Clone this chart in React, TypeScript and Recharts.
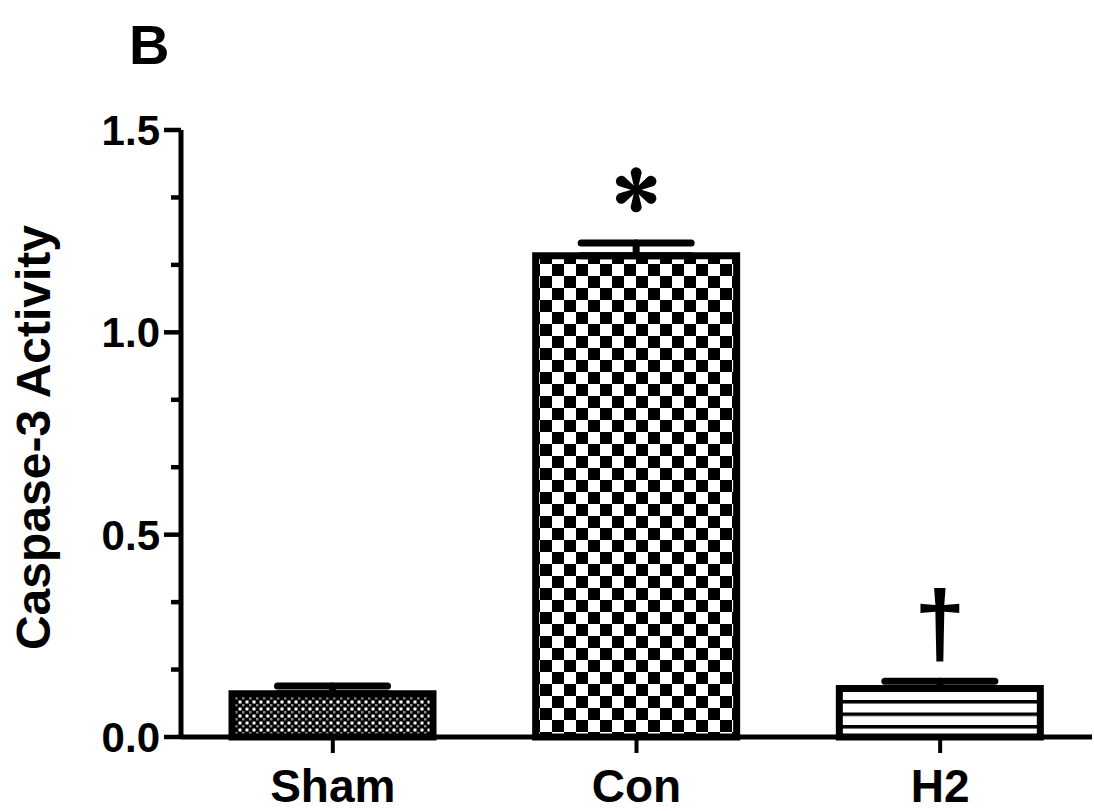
import React from 'react'
import { BarChart, Bar, XAxis, YAxis, ErrorBar, Cell, LabelList, Label } from 'recharts'

// ============================================
// Data
// ============================================

const categories = ['Sham', 'Con', 'H2']
const means = [0.107, 1.189, 0.12]
const sems = [0.019, 0.032, 0.018]
const marks = ['', '*', '†']
const fills = ['url(#patDots)', 'url(#patChecker)', 'url(#patLines)']

const yTicks = [0, 0.5, 1.0, 1.5]
const yMinorTicks = [0.1667, 0.3333, 0.6667, 0.8333, 1.1667, 1.3333]
const yAllTicks = [...yTicks, ...yMinorTicks].sort((a, b) => a - b)

const FONT = '"Liberation Sans", Arial, sans-serif'

const data = categories.map((name, i) => ({
  name,
  value: means[i],
  err: [0, sems[i]],
  mark: marks[i],
}))

// ============================================
// Ticks
// ============================================

const YTick = ({ x, y, payload }: any) => {
  const major = yTicks.some(t => Math.abs(t - payload.value) < 1e-6)
  return (
    <g>
      <line x1={x - (major ? 17 : 10)} x2={x} y1={y} y2={y} stroke="#000" strokeWidth={4.5} />
      {major && (
        <text x={x - 21} y={y + 15} textAnchor="end" fontFamily={FONT} fontWeight="bold" fontSize={42} fill="#000">
          {payload.value.toFixed(1)}
        </text>
      )}
    </g>
  )
}

const XTick = ({ x, y, payload }: any) => (
  <g>
    <line x1={x} x2={x} y1={y} y2={y + 16} stroke="#000" strokeWidth={4} />
    <text x={x} y={y + 65} textAnchor="middle" fontFamily={FONT} fontWeight="bold" fontSize={46} fill="#000">
      {payload.value}
    </text>
  </g>
)

// significance marks above bars
const MarkLabel = (props: any) => {
  const { x, y, width, value } = props
  const cx = x + width / 2
  if (value === '*') {
    const cy = y - 66
    return (
      <g>
        {[0, 60, 120, 180, 240, 300].map(a => (
          <path key={a} fill="#000" transform={`rotate(${a} ${cx} ${cy})`}
            d={`M ${cx - 1.5} ${cy} L ${cx - 5.5} ${cy - 17} A 5.5 5.5 0 1 1 ${cx + 5.5} ${cy - 17} L ${cx + 1.5} ${cy} Z`} />
        ))}
      </g>
    )
  }
  if (value === '†') {
    return (
      <text x={cx} y={y - 33} textAnchor="middle" fontFamily={FONT} fontWeight="bold" fontSize={92} fill="#000">
        †
      </text>
    )
  }
  return null
}

export default function App() {
  return (
    <div style={{ position: 'absolute', left: 0, top: 0, width: 1094, height: 811, background: '#fff' }}>
      <svg width={0} height={0} style={{ position: 'absolute' }}>
        <defs>
          <pattern id="patDots" patternUnits="userSpaceOnUse" width={7} height={7}>
            <rect width={7} height={7} fill="#000" />
            <rect x={0.5} y={0.5} width={3} height={3} fill="#fff" />
            <rect x={4} y={4} width={2.5} height={2.5} fill="#8a8a8a" />
          </pattern>
          <pattern id="patChecker" patternUnits="userSpaceOnUse" width={24} height={24}>
            <rect width={24} height={24} fill="#fff" />
            <rect x={0} y={0} width={12} height={12} fill="#000" />
            <rect x={12} y={12} width={12} height={12} fill="#000" />
          </pattern>
          <pattern id="patLines" patternUnits="userSpaceOnUse" width={12} height={12.5}>
            <rect width={12} height={12.5} fill="#fff" />
            <rect x={0} y={0} width={12} height={3.5} fill="#000" />
          </pattern>
        </defs>
      </svg>

      <div style={{
        position: 'absolute', left: 129, top: 17, fontFamily: FONT, fontWeight: 'bold',
        fontSize: 56, lineHeight: 1, color: '#000',
      }}>
        B
      </div>

      <BarChart width={1094} height={811} data={data} margin={{ top: 130, right: 2, left: 0, bottom: 0 }}>
        <XAxis
          dataKey="name"
          height={74}
          tickSize={0}
          tickMargin={0}
          tickLine={false}
          axisLine={{ stroke: '#000', strokeWidth: 5 }}
          tick={<XTick />}
          interval={0}
        />
        <YAxis
          width={181}
          domain={[0, 1.5]}
          ticks={yAllTicks}
          interval={0}
          tickSize={0}
          tickMargin={0}
          tickLine={false}
          axisLine={{ stroke: '#000', strokeWidth: 5 }}
          tick={<YTick />}
        >
          <Label
            content={({ viewBox }: any) => {
              const cx = 50
              const cy = viewBox.y + viewBox.height / 2 + 4
              return (
                <text x={cx} y={cy} transform={`rotate(-90 ${cx} ${cy})`} textAnchor="middle"
                  fontFamily={FONT} fontWeight="bold" fontSize={48} fill="#000">
                  Caspase-3 Activity
                </text>
              )
            }}
          />
        </YAxis>
        <Bar dataKey="value" barSize={201} stroke="#000" strokeWidth={7} isAnimationActive={false}>
          {data.map((d, i) => (
            <Cell key={d.name} fill={fills[i]} />
          ))}
          <ErrorBar dataKey="err" direction="y" width={55} stroke="#000" strokeWidth={7} strokeLinecap="round" />
          <LabelList dataKey="mark" content={<MarkLabel />} />
        </Bar>
      </BarChart>
    </div>
  )
}
